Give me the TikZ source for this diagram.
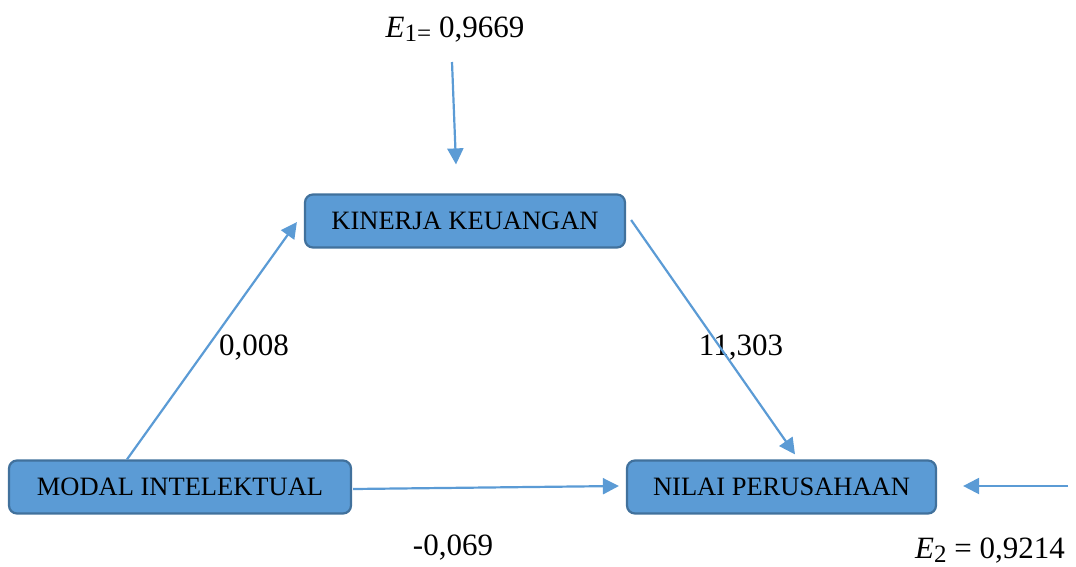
\documentclass[tikz,border=0pt]{standalone}
\usepackage{fontspec}
\setmainfont{Liberation Serif}
\usetikzlibrary{arrows.meta,calc}
\definecolor{boxfill}{HTML}{5B9BD5}
\definecolor{boxline}{HTML}{41719C}
\definecolor{arrcol}{HTML}{5B9BD5}
\tikzset{
  boxnode/.style={draw=boxline, fill=boxfill, line width=2.2pt, rounded corners=8pt,
    minimum height=53pt, inner sep=0pt, font=\fontsize{26.5}{30}\selectfont},
  conn/.style={draw=arrcol, line width=2.2pt, -{Triangle[width=16pt,length=16pt]}},
  lbl/.style={font=\fontsize{31}{36}\selectfont, inner sep=0pt}
}
\begin{document}
\begin{tikzpicture}[x=1pt,y=-1pt]
\useasboundingbox (0,0) rectangle (1076,566);
\node[boxnode, minimum width=320pt] (kk) at (465,221) {KINERJA KEUANGAN};
\node[boxnode, minimum width=342pt] (mi) at (180,487) {MODAL INTELEKTUAL};
\node[boxnode, minimum width=309pt] (np) at (781.5,487) {NILAI PERUSAHAAN};

\node[lbl, anchor=base] (e1) at (455,37) {\textit{E}\raisebox{-0.3ex}{\fontsize{25}{25}\selectfont 1=} 0,9669};
\node[lbl, anchor=base] (e2) at (990,558) {\textit{E}\raisebox{-0.3ex}{\fontsize{25}{25}\selectfont 2} = 0,9214};
\node[lbl] (l1) at (254,348) {0,008};
\node[lbl] (l2) at (741,348) {11,303};
\node[lbl] (l3) at (453,548) {-0,069};

\coordinate (e1s) at (452,62);
\coordinate (e2s) at (1068,486);

\draw[conn] (e1s) -- ([xshift=-9pt,yshift=29pt]kk.north);
\draw[conn] (e2s) -- ([xshift=26pt,yshift=1pt]np.east);
\draw[conn] ([xshift=-53pt]mi.north) -- ([xshift=-7pt,yshift=-1pt]kk.west);
\draw[conn] ([xshift=5pt,yshift=1pt]kk.east) -- ([xshift=13.5pt,yshift=5pt]np.north);
\draw[conn] ([xshift=1pt,yshift=-2pt]mi.east) -- ([xshift=-7pt,yshift=1pt]np.west);
\end{tikzpicture}
\end{document}
